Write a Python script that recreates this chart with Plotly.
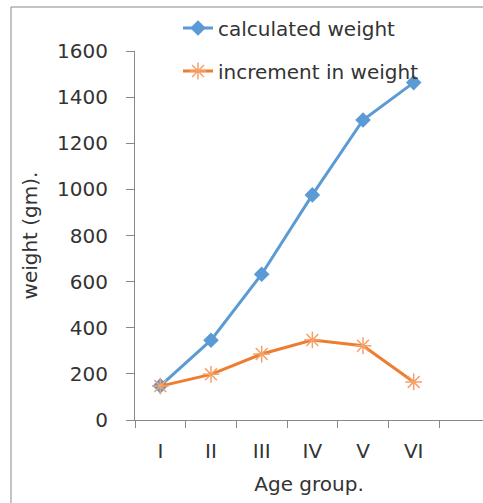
import plotly.graph_objects as go

age_groups = ["I", "II", "III", "IV", "V", "VI"]
calculated_weight = [148, 346, 632, 976, 1301, 1463]
increment_in_weight = [147, 198, 286, 347, 322, 165]
y_ticks = [0, 200, 400, 600, 800, 1000, 1200, 1400, 1600]

x_idx = list(range(len(age_groups)))
boundaries = [i - 0.5 for i in range(len(age_groups) + 1)]

FONT = "DejaVu Sans"
FS = 20
TXT = "#333333"
AX = "#888888"

W, H = 483, 503
L, R, T, B = 135, 0, 51, 83
pw = W - L - R
ph = H - T - B
cat_w = 50.67

fig = go.Figure()
fig.add_trace(go.Scatter(
    x=x_idx, y=calculated_weight, name="calculated weight", mode="lines+markers",
    line=dict(color="#5B9BD5", width=3),
    marker=dict(symbol="diamond", size=12, color="#5B9BD5"),
    legend="legend", showlegend=True,
))
fig.add_trace(go.Scatter(
    x=x_idx, y=increment_in_weight, name="increment in weight", mode="lines+markers",
    line=dict(color="#ED7D31", width=3),
    marker=dict(symbol="asterisk-open", size=14, color="#F4A06A", line=dict(width=1.5, color="#F4A06A")),
    legend="legend2", showlegend=True,
))

def px_to_paper_x(px):
    return (px - L) / pw

def px_to_paper_y(py):
    return (H - B - py) / ph

leg_common = dict(xanchor="left", yanchor="middle",
                  bgcolor="rgba(0,0,0,0)", borderwidth=0,
                  font=dict(size=FS, family=FONT, color=TXT))

fig.update_layout(
    width=W, height=H,
    showlegend=True,
    margin=dict(l=L, r=R, t=T, b=B, pad=0, autoexpand=False),
    paper_bgcolor="white", plot_bgcolor="white",
    font=dict(family=FONT, size=FS, color=TXT),
    legend=dict(x=px_to_paper_x(178), y=px_to_paper_y(28), visible=True, **leg_common),
    legend2=dict(x=px_to_paper_x(178), y=px_to_paper_y(71), visible=True, **leg_common),
    xaxis=dict(
        range=[-0.5, -0.5 + pw / cat_w],
        tickmode="array", tickvals=x_idx, ticktext=age_groups, ticks="",
        showline=True, linecolor=AX, linewidth=1, showgrid=False, zeroline=False,
        ticklabelstandoff=13,
        minor=dict(tickmode="array", tickvals=boundaries, ticks="outside", ticklen=7,
                   tickcolor=AX, tickwidth=1, showgrid=False),
        title=dict(text="Age group.", font=dict(size=FS, family=FONT, color=TXT), standoff=14),
    ),
    yaxis=dict(
        range=[0, 1600], tickmode="array", tickvals=y_ticks,
        ticks="outside", ticklen=8, tickcolor=AX, tickwidth=1,
        showline=True, linecolor=AX, linewidth=1, showgrid=False, zeroline=False,
        ticklabelstandoff=14,
        title=dict(text="weight (gm).", font=dict(size=FS, family=FONT, color=TXT), standoff=14),
    ),
    shapes=[
        dict(type="line", xref="paper", yref="paper",
             x0=px_to_paper_x(11), x1=px_to_paper_x(11),
             y0=px_to_paper_y(7), y1=px_to_paper_y(515),
             line=dict(color=AX, width=1)),
        dict(type="line", xref="paper", yref="paper",
             x0=px_to_paper_x(11), x1=px_to_paper_x(500),
             y0=px_to_paper_y(7), y1=px_to_paper_y(7),
             line=dict(color=AX, width=1)),
    ],
)

fig.write_html(
    "out.html",
    config={"displayModeBar": False},
    post_script="document.body.style.margin='0';document.body.style.overflow='hidden';"
                "document.documentElement.style.overflow='hidden';",
)
